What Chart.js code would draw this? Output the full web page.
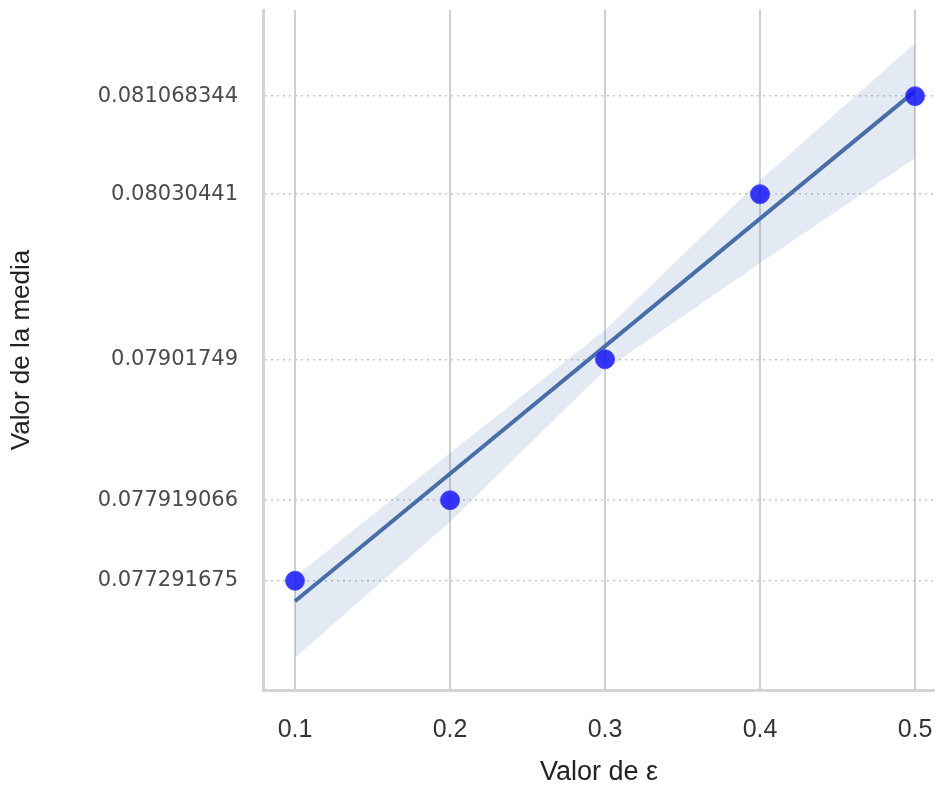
<!DOCTYPE html>
<html>
<head>
<meta charset="utf-8">
<script src="https://cdn.jsdelivr.net/npm/chart.js@4"></script>
<style>
  body { margin: 0; background: #fff; }
  #wrap { width: 935px; height: 790px; }
</style>
</head>
<body>
<div id="wrap"><canvas id="chart-media"></canvas></div>
<script>
// valores
const epsilon = [0.1, 0.2, 0.3, 0.4, 0.5];
const media = [0.077291675, 0.077919066, 0.07901749, 0.08030441, 0.081068344];
const yTickLabels = ['0.077291675', '0.077919066', '0.07901749', '0.08030441', '0.081068344'];
const xTickLabels = ['0.1', '0.2', '0.3', '0.4', '0.5'];
// recta de regresion y banda de confianza (estimadas a ojo)
const fitX = [0.1, 0.5];
const fitY = [0.077132, 0.081108];
const bandUpper = [0.077323, 0.078288, 0.079246, 0.080414, 0.081481];
const bandLower = [0.076692, 0.077751, 0.078935, 0.079768, 0.080585];

const toPts = (xs, ys) => xs.map((x, i) => ({x: x, y: ys[i]}));

const ctx = document.getElementById('chart-media');
new Chart(ctx, {
  type: 'scatter',
  data: {
    datasets: [
      {
        label: 'media',
        data: toPts(epsilon, media),
        backgroundColor: 'rgba(20, 20, 245, 0.85)',
        borderColor: 'rgba(70, 70, 255, 0.9)',
        borderWidth: 1,
        pointRadius: 9.5,
        order: 0
      },
      {
        label: 'ajuste',
        type: 'line',
        data: toPts(fitX, fitY),
        borderColor: 'rgb(72, 110, 170)',
        borderWidth: 4,
        pointRadius: 0,
        fill: false,
        order: 1
      },
      {
        label: 'banda sup',
        type: 'line',
        data: toPts(epsilon, bandUpper),
        borderWidth: 0,
        borderColor: 'rgba(0,0,0,0)',
        backgroundColor: 'rgba(76, 114, 176, 0.15)',
        pointRadius: 0,
        fill: '+1',
        order: 2
      },
      {
        label: 'banda inf',
        type: 'line',
        data: toPts(epsilon, bandLower),
        borderWidth: 0,
        borderColor: 'rgba(0,0,0,0)',
        pointRadius: 0,
        fill: false,
        order: 3
      }
    ]
  },
  options: {
    responsive: true,
    maintainAspectRatio: false,
    animation: false,
    layout: { padding: { top: 10, right: 0, left: 0, bottom: 0 }, autoPadding: false },
    plugins: { legend: { display: false }, tooltip: { enabled: false } },
    scales: {
      x: {
        type: 'linear',
        min: 0.07935,
        max: 0.5129,
        afterFit: s => { s.height = 100; s.paddingLeft = 0; s.paddingRight = 0; },
        afterBuildTicks: s => { s.ticks = epsilon.map(v => ({value: v})); },
        ticks: {
          callback: (v, i) => xTickLabels[i],
          font: { family: 'Liberation Sans', size: 25 },
          color: '#333',
          padding: 25,
          maxRotation: 0
        },
        grid: { color: '#cfcfcf', lineWidth: 2, drawTicks: false },
        border: { color: '#d4d4d4', width: 3 },
        title: {
          display: true,
          text: 'Valor de ε',
          font: { family: 'Liberation Sans', size: 27 },
          color: '#222',
          padding: { top: 0, bottom: 1 }
        }
      },
      y: {
        type: 'linear',
        min: 0.07644,
        max: 0.08174,
        afterFit: s => { s.width = 263; s.paddingTop = 0; s.paddingBottom = 0; },
        afterBuildTicks: s => { s.ticks = media.map(v => ({value: v})); },
        ticks: {
          callback: (v, i) => yTickLabels[i],
          font: { family: 'DejaVu Sans', size: 21 },
          color: '#4a4a4a',
          padding: 25
        },
        grid: { color: '#c4c4c4', lineWidth: 1.5, drawTicks: false },
        border: { color: '#d4d4d4', width: 3, dash: [2, 4] },
        title: {
          display: true,
          text: 'Valor de la media',
          font: { family: 'Liberation Sans', size: 26 },
          color: '#222',
          padding: { top: 6, bottom: 0 }
        }
      }
    }
  }
});
</script>
</body>
</html>
